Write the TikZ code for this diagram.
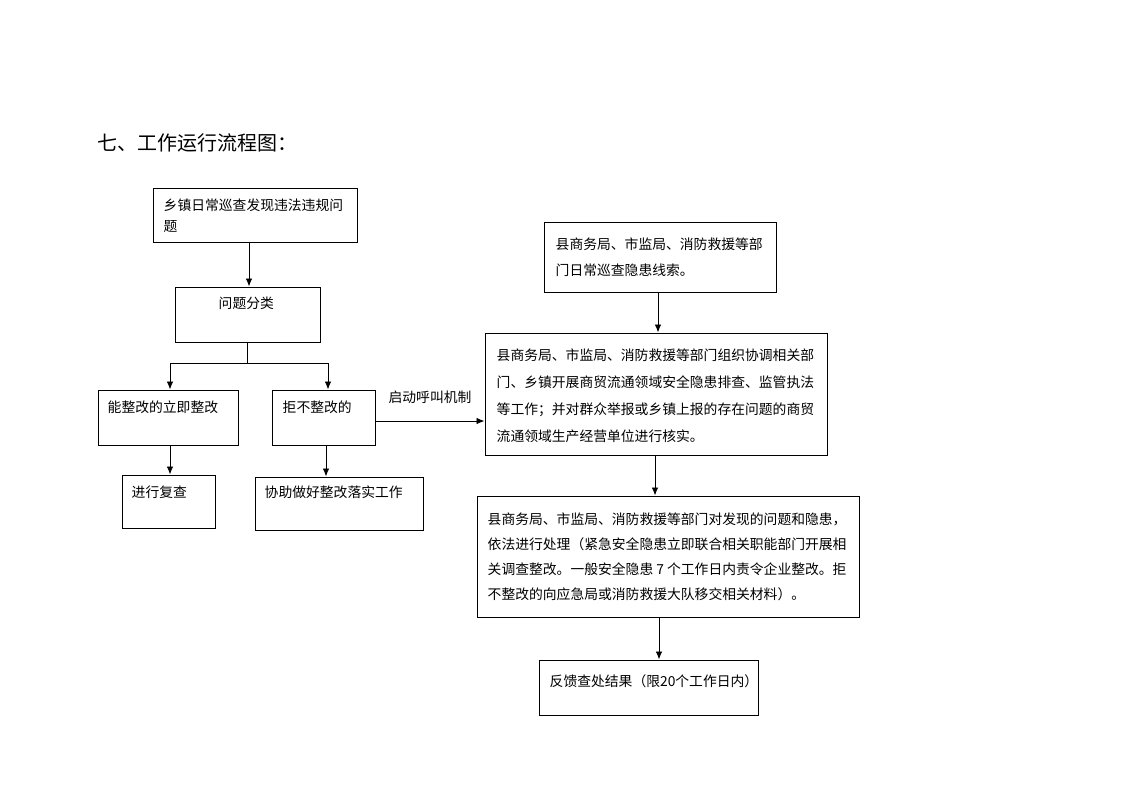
\documentclass[tikz,border=0pt]{standalone}
\usepackage{fontspec}
\setmainfont{Noto Sans CJK SC}
\usetikzlibrary{arrows.meta,positioning}

\begin{document}
\begin{tikzpicture}[x=1pt,y=-1pt,
    box/.style={draw,line width=1pt,inner sep=0pt},
    txt/.style={anchor=north west,inner sep=0pt,align=left,
      font=\fontsize{13.8}{26}\selectfont},
    arr/.style={line width=0.9pt,-{Latex[length=8pt,width=6.5pt]}}]
  \useasboundingbox (0,0) rectangle (1122,793);
  % title
  \node[anchor=west,inner sep=0pt,font=\fontsize{20}{24}\selectfont] (title) at (97,143) {七、工作运行流程图：};
  % left column
  \node[box,minimum width=204pt,minimum height=54pt] (patrol) at (255,215) {};
  \node[box,minimum width=145pt,minimum height=55pt] (sort) at (247.5,314.5) {};
  \node[box,minimum width=140pt,minimum height=55pt] (fix) at (168,417.5) {};
  \node[box,minimum width=103pt,minimum height=55pt] (refuse) at (323.5,417.5) {};
  \node[box,minimum width=93pt,minimum height=53pt] (recheck) at (168.5,501.5) {};
  \node[box,minimum width=168pt,minimum height=53pt] (assist) at (339,503.5) {};
  % right column
  \node[box,minimum width=232pt,minimum height=70pt] (clue) at (660,257) {};
  \node[box,minimum width=342pt,minimum height=122pt] (coord) at (656,394) {};
  \node[box,minimum width=382pt,minimum height=121pt] (handle) at (668,556.5) {};
  \node[box,minimum width=219pt,minimum height=55pt] (feedback) at (648.5,687.5) {};
  % texts
  \node[txt,font=\fontsize{13.8}{21}\selectfont] at ([shift={(11,11)}]patrol.north west) {乡镇日常巡查发现违法违规问\\题};
  \node[txt] at ([shift={(44,10)}]sort.north west) {问题分类};
  \node[txt] at ([shift={(10,11)}]fix.north west) {能整改的立即整改};
  \node[txt] at ([shift={(11,11)}]refuse.north west) {拒不整改的};
  \node[txt] at ([shift={(10,11)}]recheck.north west) {进行复查};
  \node[txt] at ([shift={(10,9)}]assist.north west) {协助做好整改落实工作};
  \node[txt] at ([shift={(12,16)}]clue.north west) {县商务局、市监局、消防救援等部\\门日常巡查隐患线索。};
  \node[txt,font=\fontsize{13.8}{27}\selectfont] at ([shift={(12,16)}]coord.north west)
    {县商务局、市监局、消防救援等部门组织协调相关部\\门、乡镇开展商贸流通领域安全隐患排查、监管执法\\等工作；并对群众举报或乡镇上报的存在问题的商贸\\流通领域生产经营单位进行核实。};
  \node[txt,font=\fontsize{13.8}{25}\selectfont] at ([shift={(11,17)}]handle.north west)
    {县商务局、市监局、消防救援等部门对发现的问题和隐患，\\依法进行处理（紧急安全隐患立即联合相关职能部门开展相\\关调查整改。一般安全隐患 7 个工作日内责令企业整改。拒\\不整改的向应急局或消防救援大队移交相关材料）。};
  \node[txt] at ([shift={(11,15)}]feedback.north west) {反馈查处结果（限20个工作日内）};
  % connectors
  \draw[arr] ([xshift=-6pt]patrol.south) -- ([xshift=-6pt]patrol.south |- sort.north);
  \draw[line width=0.9pt] (sort.south) -- ++(0,21) coordinate (split);
  \draw[arr] (split) -| ([xshift=2pt]fix.north);
  \draw[arr] (split) -| ([xshift=4.5pt]refuse.north);
  \draw[arr] ([xshift=2pt]fix.south) -- ([xshift=2pt]fix.south |- recheck.north);
  \draw[arr] ([xshift=2.5pt]refuse.south) -- ([xshift=2.5pt]refuse.south |- assist.north);
  \draw[arr] ([yshift=-3.5pt]refuse.east) -- ([yshift=-3.5pt]refuse.east -| coord.west)
    node[midway,above=17pt,inner sep=0pt,font=\fontsize{13.8}{16}\selectfont] (call) {启动呼叫机制};
  \draw[arr] ([xshift=-2pt]clue.south) -- ([xshift=-2pt]clue.south |- coord.north);
  \draw[arr] ([xshift=-1pt]coord.south) -- ([xshift=-1pt]coord.south |- handle.north);
  \draw[arr] ([xshift=-9pt]handle.south) -- ([xshift=-9pt]handle.south |- feedback.north);
\end{tikzpicture}
\end{document}
